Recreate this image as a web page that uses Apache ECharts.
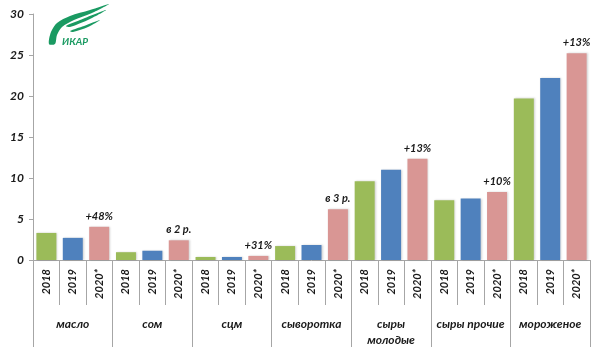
<!DOCTYPE html>
<html>
<head>
<meta charset="utf-8">
<script src="https://cdn.jsdelivr.net/npm/echarts@6/dist/echarts.min.js"></script>
<style>
  html, body { margin: 0; padding: 0; background: #fff; }
  #chart { width: 600px; height: 352px; }
</style>
</head>
<body>
<div id="chart"></div>
<script>
// данные
const groups = ['масло', 'сом', 'сцм', 'сыворотка', 'сыры\nмолодые', 'сыры прочие', 'мороженое'];
const years = ['2018', '2019', '2020*'];
const v2018 = [3.3, 0.95, 0.37, 1.7, 9.6, 7.3, 19.7];
const v2019 = [2.7, 1.13, 0.37, 1.83, 11.0, 7.5, 22.2];
const v2020 = [4.05, 2.4, 0.5, 6.2, 12.35, 8.3, 25.2];
const notes = ['+48%', 'в 2 р.', '+31%', 'в 3 р.', '+13%', '+10%', '+13%'];
const yTicks = [0, 5, 10, 15, 20, 25, 30];

const colors = ['#9BBB59', '#4F81BD', '#D99694'];
const font = 'Lato, "Open Sans", sans-serif';
const logoGreen = '#1a9a62';

// подписи годов под каждым столбцом
let yearCats = [];
groups.forEach(function () { years.forEach(function (y) { yearCats.push(y); }); });

const txt = { fontFamily: font, fontStyle: 'italic', fontWeight: 'bold', color: '#1a1a1a' };

let myChart = echarts.init(document.getElementById('chart'));
let option = {
    animation: false,
    grid: { left: 33, right: 10, top: 14, bottom: 92 },
    xAxis: [
        {
            type: 'category',
            data: yearCats,
            position: 'bottom',
            axisLine: { show: true, onZero: false, lineStyle: { color: '#a6a6a6' } },
            axisTick: { show: true, interval: 0, length: 45, lineStyle: { color: '#a6a6a6' } },
            axisLabel: Object.assign({ interval: 0, rotate: 90, margin: 9, fontSize: 11 }, txt)
        },
        {
            type: 'category',
            data: groups,
            position: 'bottom',
            axisLine: { show: false, onZero: false },
            axisTick: { show: true, interval: 0, length: 87, lineStyle: { color: '#a6a6a6' } },
            axisLabel: Object.assign({ interval: 0, margin: 56, fontSize: 12, lineHeight: 16 }, txt)
        }
    ],
    yAxis: {
        type: 'value',
        min: 0,
        max: yTicks[yTicks.length - 1],
        interval: 5,
        splitLine: { show: false },
        axisLine: { show: true, lineStyle: { color: '#a6a6a6' } },
        axisTick: { show: true, length: 4, lineStyle: { color: '#a6a6a6' } },
        axisLabel: Object.assign({ margin: 9, fontSize: 12 }, txt)
    },
    series: [v2018, v2019, v2020].map(function (vals, i) {
        return {
            name: years[i],
            type: 'bar',
            xAxisIndex: 1,
            data: vals,
            barWidth: 20,
            barGap: '32%',
            barCategoryGap: '8%',
            itemStyle: {
                color: colors[i],
                shadowColor: 'rgba(0,0,0,0.18)',
                shadowBlur: 2,
                shadowOffsetX: 1,
                shadowOffsetY: 0
            },
            label: i === 2 ? Object.assign({
                show: true,
                position: 'top',
                distance: 5,
                fontSize: 11,
                formatter: function (p) { return notes[p.dataIndex]; }
            }, txt) : { show: false }
        };
    }),
    // логотип
    graphic: [
        {
            type: 'polygon',
            shape: { smooth: 0.3, points: [[49, 44], [51, 32], [57, 23], [70, 16], [90, 10], [109, 4], [92, 13], [74, 20], [62, 27], [57, 35], [55, 44]] },
            style: { fill: logoGreen }
        },
        {
            type: 'polygon',
            shape: { smooth: 0.3, points: [[66, 26], [80, 20], [106, 10], [90, 19], [70, 27]] },
            style: { fill: logoGreen }
        },
        {
            type: 'polygon',
            shape: { smooth: 0.3, points: [[70, 31], [84, 26], [100, 20], [88, 27], [73, 32]] },
            style: { fill: logoGreen }
        },
        {
            type: 'text', left: 62, top: 37,
            style: { text: 'ИКАР', fill: logoGreen, font: 'italic bold 10px ' + font }
        }
    ]
};
myChart.setOption(option);
</script>
</body>
</html>
